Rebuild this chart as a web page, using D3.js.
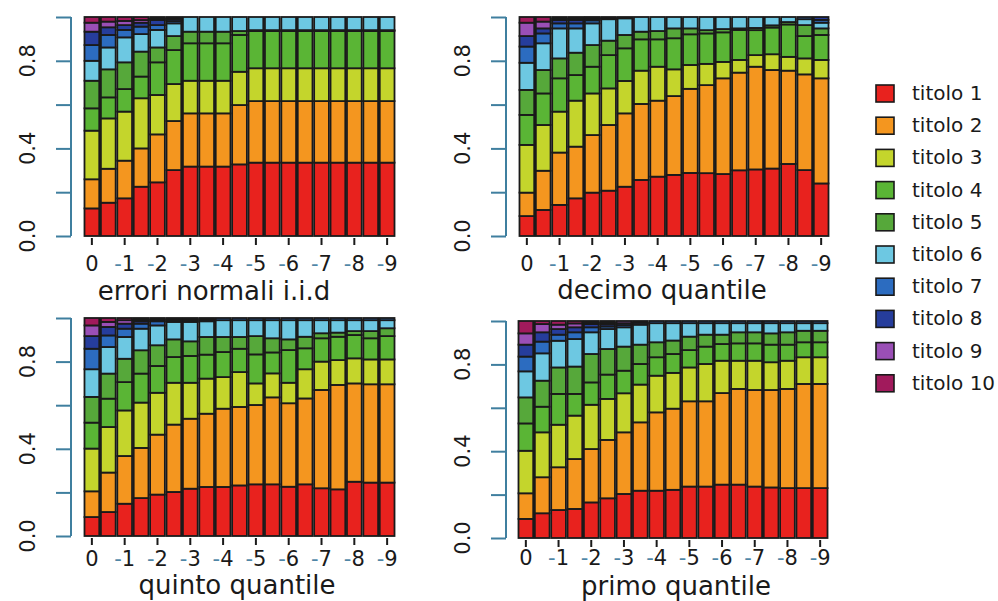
<!DOCTYPE html>
<html>
<head>
<meta charset="utf-8">
<script src="https://cdn.jsdelivr.net/npm/d3@7"></script>
<style>
  body { margin: 0; background: #fff; }
  svg { display: block; }
  text { font-family: "DejaVu Sans", sans-serif; fill: #1a1a1a; }
</style>
</head>
<body>
<svg id="chart" width="998" height="601"></svg>
<script>
// Series (stack order, bottom to top)
const seriesNames = ["titolo 1", "titolo 2", "titolo 3", "titolo 4", "titolo 5",
                     "titolo 6", "titolo 7", "titolo 8", "titolo 9", "titolo 10"];
const seriesColors = ["#e8221e", "#f4961f", "#c4d52c", "#5ab535", "#56a83a",
                      "#6dc8e2", "#2c6cc0", "#263d9c", "#9a4fb6", "#a11a5c"];

// Bars: one per half-step lag
const lags = [0, -0.5, -1, -1.5, -2, -2.5, -3, -3.5, -4, -4.5,
              -5, -5.5, -6, -6.5, -7, -7.5, -8, -8.5, -9];
const lagTicks = [0, -1, -2, -3, -4, -5, -6, -7, -8, -9];
const lagTickLabels = ["0", "-1", "-2", "-3", "-4", "-5", "-6", "-7", "-8", "-9"];

const yTicks = [0, 0.2, 0.4, 0.6, 0.8, 1];
const yTickLabels = ["0.0", "", "0.4", "", "0.8", ""];

// Shares of each titolo per bar (rows = bars, columns = titolo 1..10)
const iidShares = [
  [.126,.133,.222,.102,.126,.091,.072,.061,.041,.026],
  [.152,.155,.230,.096,.128,.100,.057,.035,.026,.021],
  [.172,.172,.224,.103,.122,.114,.034,.022,.019,.018],
  [.225,.175,.229,.099,.114,.080,.034,.018,.012,.014],
  [.245,.219,.180,.149,.068,.080,.022,.023,.007,.007],
  [.301,.224,.169,.155,.064,.058,.010,.009,.005,.005],
  [.317,.243,.149,.171,.053,.067,0,0,0,0],
  [.317,.243,.149,.171,.053,.067,0,0,0,0],
  [.317,.243,.149,.171,.053,.067,0,0,0,0],
  [.327,.271,.152,.168,.018,.064,0,0,0,0],
  [.335,.281,.150,.170,.004,.060,0,0,0,0],
  [.335,.281,.150,.170,.004,.060,0,0,0,0],
  [.335,.281,.150,.170,.004,.060,0,0,0,0],
  [.335,.281,.150,.170,.004,.060,0,0,0,0],
  [.335,.281,.150,.170,.004,.060,0,0,0,0],
  [.335,.281,.150,.170,.004,.060,0,0,0,0],
  [.335,.281,.150,.170,.004,.060,0,0,0,0],
  [.335,.281,.150,.170,.004,.060,0,0,0,0],
  [.335,.281,.150,.170,.004,.060,0,0,0,0]
];
const decimoShares = [
  [.091,.107,.218,.137,.114,.124,.074,.048,.061,.026],
  [.119,.179,.209,.144,.107,.122,.045,.023,.031,.021],
  [.142,.239,.187,.152,.091,.137,.023,.015,.007,.007],
  [.172,.236,.210,.117,.102,.111,.023,.015,.007,.007],
  [.198,.263,.190,.122,.099,.099,.014,.008,.004,.003],
  [.207,.300,.167,.152,.066,.098,.005,.005,0,0],
  [.225,.335,.148,.149,.061,.076,.006,0,0,0],
  [.256,.347,.152,.143,.035,.067,0,0,0,0],
  [.271,.347,.155,.125,.038,.064,0,0,0,0],
  [.279,.360,.122,.142,.045,.052,0,0,0,0],
  [.288,.384,.109,.140,.027,.052,0,0,0,0],
  [.287,.402,.097,.139,.015,.060,0,0,0,0],
  [.283,.437,.075,.135,.015,.055,0,0,0,0],
  [.300,.446,.058,.137,.007,.052,0,0,0,0],
  [.304,.469,.053,.114,.010,.050,0,0,0,0],
  [.308,.450,.072,.122,.010,.038,0,0,0,0],
  [.329,.426,.063,.148,.011,.023,0,0,0,0],
  [.301,.437,.073,.102,.050,.027,.010,0,0,0],
  [.240,.480,.084,.114,.030,.026,.013,.013,0,0]
];
const quintoShares = [
  [.087,.118,.196,.119,.118,.127,.094,.058,.049,.034],
  [.110,.181,.209,.130,.115,.122,.053,.039,.023,.018],
  [.148,.219,.209,.130,.107,.100,.038,.023,.016,.010],
  [.174,.230,.208,.133,.107,.099,.023,.011,.008,.007],
  [.190,.275,.192,.123,.095,.091,.019,.008,.007,0],
  [.202,.309,.192,.118,.081,.080,.008,.006,.004,0],
  [.217,.321,.165,.123,.067,.089,.008,.006,.004,0],
  [.225,.336,.161,.110,.081,.072,.008,.007,0,0],
  [.225,.359,.145,.115,.069,.077,.010,0,0,0],
  [.232,.360,.160,.107,.054,.077,.010,0,0,0],
  [.237,.364,.099,.133,.084,.073,.010,0,0,0],
  [.237,.399,.110,.096,.065,.083,.010,0,0,0],
  [.226,.383,.094,.150,.049,.088,.010,0,0,0],
  [.237,.394,.134,.096,.053,.076,.010,0,0,0],
  [.219,.451,.130,.107,.023,.060,.010,0,0,0],
  [.214,.479,.114,.107,.019,.057,.010,0,0,0],
  [.249,.451,.115,.107,.018,.050,.010,0,0,0],
  [.245,.451,.114,.097,.033,.050,.010,0,0,0],
  [.245,.451,.114,.107,.036,.037,.010,0,0,0]
];
const primoShares = [
  [.088,.118,.196,.126,.120,.120,.068,.055,.052,.057],
  [.114,.166,.207,.118,.120,.126,.054,.043,.038,.014],
  [.129,.197,.196,.142,.122,.123,.028,.026,.020,.017],
  [.134,.230,.200,.100,.126,.127,.031,.023,.018,.011],
  [.164,.246,.204,.103,.131,.100,.023,.015,.007,.007],
  [.183,.269,.189,.112,.118,.092,.012,.010,.008,.007],
  [.203,.284,.180,.104,.111,.089,.010,.009,.010,0],
  [.218,.315,.174,.095,.089,.092,.009,.008,0,0],
  [.218,.361,.169,.085,.069,.088,.010,0,0,0],
  [.222,.374,.165,.087,.062,.080,.010,0,0,0],
  [.237,.393,.156,.080,.062,.062,.010,0,0,0],
  [.237,.393,.172,.080,.055,.053,.010,0,0,0],
  [.246,.422,.149,.077,.043,.053,.010,0,0,0],
  [.246,.441,.130,.080,.051,.042,.010,0,0,0],
  [.237,.445,.135,.080,.051,.042,.010,0,0,0],
  [.233,.449,.128,.081,.052,.047,.010,0,0,0],
  [.230,.457,.130,.074,.057,.042,.010,0,0,0],
  [.230,.480,.123,.069,.053,.035,.010,0,0,0],
  [.230,.480,.123,.069,.053,.035,.010,0,0,0]
];

const panelTitles = ["errori normali i.i.d", "decimo quantile", "quinto quantile", "primo quantile"];
const panelShares = [iidShares, decimoShares, quintoShares, primoShares];

// Panel geometry
const panelLayout = [
  { axisX: 71,  x0: 84,  x1: 395, y0: 236, y1: 17,  titleX: 214, labelY: 271, titleY: 300 },
  { axisX: 506, x0: 519, x1: 829, y0: 236, y1: 17,  titleX: 662, labelY: 271, titleY: 299 },
  { axisX: 71,  x0: 84,  x1: 395, y0: 536, y1: 318, titleX: 237, labelY: 566, titleY: 594 },
  { axisX: 506, x0: 518, x1: 828, y0: 538, y1: 321, titleX: 676, labelY: 565, titleY: 595 }
];

const axisColor = "#3f7f9f";
const minusColor = "#4f86a6";
const svg = d3.select("#chart");

const stack = d3.stack().keys(seriesNames);

panelShares.forEach((shares, p) => {
  const L = panelLayout[p];
  const rows = shares.map((r, i) => {
    const o = { lag: lags[i] };
    seriesNames.forEach((k, j) => { o[k] = r[j]; });
    return o;
  });
  const layers = stack(rows);

  const x = d3.scaleBand().domain(lags).range([L.x0, L.x1]).paddingInner(0.1).paddingOuter(0.03);
  const y = d3.scaleLinear().domain([0, 1]).range([L.y0, L.y1]);

  const g = svg.append("g");

  // stacked bars
  g.selectAll("g.layer")
    .data(layers)
    .join("g")
      .attr("class", "layer")
      .attr("fill", (d, i) => seriesColors[i])
    .selectAll("rect")
    .data(d => d.filter(s => s[1] - s[0] > 0))
    .join("rect")
      .attr("x", d => x(d.data.lag))
      .attr("width", x.bandwidth())
      .attr("y", d => y(d[1]))
      .attr("height", d => y(d[0]) - y(d[1]))
      .attr("stroke", "#1a1a1a")
      .attr("stroke-width", 1.8);

  // y axis
  const yAxis = d3.axisLeft(y).tickValues(yTicks).tickSize(15).tickFormat("");
  const ya = g.append("g").attr("transform", `translate(${L.axisX},0)`).call(yAxis);
  ya.select(".domain").attr("stroke", axisColor).attr("stroke-width", 2)
    .attr("d", `M0,${y(0)}V${y(1)}`);
  ya.selectAll(".tick line").attr("stroke", axisColor).attr("stroke-width", 2);

  g.selectAll("text.ylab")
    .data(yTicks.filter((t, i) => yTickLabels[i] !== ""))
    .join("text")
      .attr("class", "ylab")
      .attr("transform", t => `translate(${L.axisX - 36},${y(t)}) rotate(-90)`)
      .attr("text-anchor", "middle")
      .attr("font-size", 21)
      .text(t => yTickLabels[yTicks.indexOf(t)]);

  // x ticks (at whole lags)
  const xc = v => x(v) + x.bandwidth() / 2;
  g.selectAll("line.xt")
    .data(lagTicks)
    .join("line")
      .attr("class", "xt")
      .attr("x1", xc).attr("x2", xc)
      .attr("y1", L.y0 + 2).attr("y2", L.y0 + 9)
      .attr("stroke", "#1a1a1a").attr("stroke-width", 2);

  const xl = g.selectAll("text.xl")
    .data(lagTicks)
    .join("text")
      .attr("class", "xl")
      .attr("x", xc)
      .attr("y", L.labelY)
      .attr("text-anchor", "middle")
      .attr("font-size", 21);
  xl.each(function(v, i) {
    const lab = lagTickLabels[i];
    const t = d3.select(this);
    if (lab.startsWith("-")) {
      t.append("tspan").style("fill", minusColor).text("-");
      t.append("tspan").text(lab.slice(1));
    } else {
      t.text(lab);
    }
  });

  // panel title
  g.append("text")
    .attr("x", L.titleX)
    .attr("y", L.titleY)
    .attr("text-anchor", "middle")
    .attr("font-size", 26)
    .text(panelTitles[p]);
});

// legend
const legend = svg.append("g").attr("transform", "translate(876,85)");
const row = legend.selectAll("g")
  .data(seriesNames)
  .join("g")
    .attr("transform", (d, i) => `translate(0,${i * 32.2})`);
row.append("rect")
  .attr("width", 18).attr("height", 17)
  .attr("fill", (d, i) => seriesColors[i])
  .attr("stroke", "#1a1a1a").attr("stroke-width", 1.6);
row.append("text")
  .attr("x", 36).attr("y", 15)
  .attr("font-size", 20)
  .text(d => d);
</script>
</body>
</html>
